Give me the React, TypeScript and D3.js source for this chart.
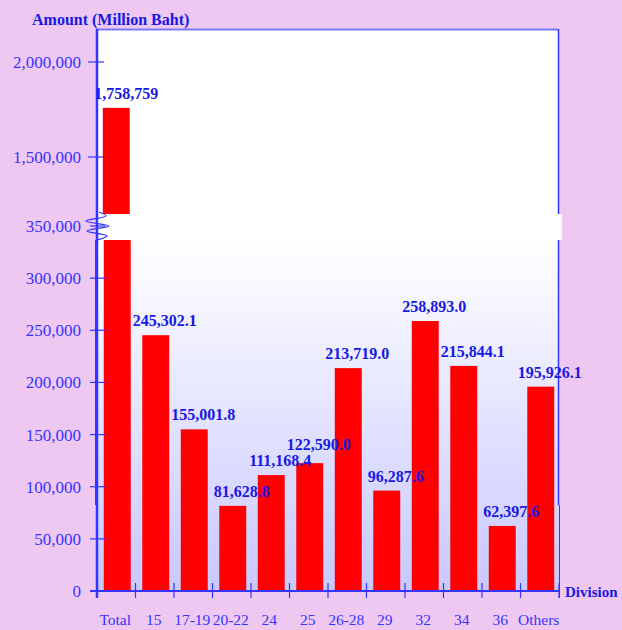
import React from 'react';
import * as d3 from 'd3';

// divisions and their amounts (million baht)
const categories = ['Total', '15', '17-19', '20-22', '24', '25', '26-28', '29', '32', '34', '36', 'Others'];
const amounts = [1758759, 245302.1, 155001.8, 81628.8, 111168.4, 122590.0, 213719.0, 96287.6, 258893.0, 215844.1, 62397.6, 195926.1];
const lowerTicks = [0, 50000, 100000, 150000, 200000, 250000, 300000, 350000];
const upperTicks = [1500000, 2000000];

const W = 622;
const H = 630;
const left = 97;
const right = 559;
const upperTop = 29;
const upperBottom = 214;
const lowerTop = 240;
const baseline = 591;

const bg = '#EFC8F2';
const axisBlue = '#3535FF';
const labelBlue = '#1818E6';
const serif = '"Liberation Serif", "Times New Roman", serif';

const x = d3.scaleBand<string>()
  .domain(categories)
  .range([left, right])
  .paddingInner(0.3)
  .paddingOuter(0.15);

const yLow = d3.scaleLinear().domain([0, 350000]).range([baseline, 226]);
const yHigh = d3.scaleLinear().domain([1500000, 2000000]).range([157, 62]);

const fmtTick = d3.format(',');
const fmtVal = (v: number, i: number) => (i === 0 ? d3.format(',')(v) : d3.format(',.1f')(v));

// axis break squiggle
const squiggle = d3.line<[number, number]>().curve(d3.curveCatmullRom)([
  [99, 212], [106, 216], [86, 221], [109, 226], [87, 231], [107, 236], [97, 240],
]);

// place value labels, pushing one up when it would sit on the previous one
function placeLabels(bw: number) {
  const out: { x: number; y: number; text: string; w: number }[] = [];
  amounts.forEach((v, i) => {
    const text = fmtVal(v, i);
    const w = text.length * 8;
    const cx = (x(categories[i]) as number) + bw / 2 + 10;
    let y = (i === 0 ? yHigh(v) : yLow(v)) - 9;
    const prev = out[i - 1];
    if (prev && Math.abs(prev.x - cx) < (prev.w + w) / 2 && Math.abs(prev.y - y) < 16) {
      y = prev.y - 16;
    }
    out.push({ x: cx, y, text, w });
  });
  return out;
}

export default function App() {
  const bw = x.bandwidth();
  const gap = (x.step() - bw) / 2;
  const boundaries = categories.map(c => (x(c) as number) - gap).concat([right]);
  const labels = placeLabels(bw);

  return (
    <svg width={W} height={H} style={{ position: 'absolute', left: 0, top: 0, display: 'block' }}
      fontFamily={serif}>
      <defs>
        <linearGradient id="lowGrad" x1="0" y1="0" x2="0" y2="1">
          <stop offset="0%" stopColor="#FFFFFF" />
          <stop offset="100%" stopColor="#C8C8FF" />
        </linearGradient>
        <clipPath id="clipUpper">
          <rect x={left} y={upperTop} width={right - left} height={upperBottom - upperTop} />
        </clipPath>
        <clipPath id="clipLower">
          <rect x={left} y={lowerTop} width={right - left} height={baseline - lowerTop} />
        </clipPath>
      </defs>

      <rect x={0} y={0} width={W} height={H} fill={bg} />

      {/* panels */}
      <rect x={left - 1} y={upperTop} width={right - left} height={upperBottom - upperTop} fill="#FFFFFF" />
      <rect x={left - 1} y={upperBottom} width={right - left + 4} height={lowerTop - upperBottom} fill="#FFFFFF" />
      <rect x={left} y={lowerTop} width={right - left} height={baseline - lowerTop} fill="url(#lowGrad)" />

      {/* frame */}
      <line x1={left - 1} x2={right - 1} y1={upperTop + 0.5} y2={upperTop + 0.5} stroke="#7878FF" strokeWidth={2} />
      <line x1={right - 0.5} x2={right - 0.5} y1={upperTop} y2={upperBottom} stroke={axisBlue} strokeWidth={1.5} />
      <line x1={right - 0.5} x2={right - 0.5} y1={lowerTop} y2={505} stroke={axisBlue} strokeWidth={1.5} />
      <line x1={right + 0.5} x2={right + 0.5} y1={505} y2={baseline + 7} stroke={axisBlue} strokeWidth={1} />
      <line x1={left - 1.5} x2={left - 1.5} y1={lowerTop} y2={505} stroke={axisBlue} strokeWidth={1} />

      {/* bars */}
      <g clipPath="url(#clipUpper)">
        {amounts.map((v, i) => (
          <rect key={'u' + i} x={x(categories[i]) as number} width={bw}
            y={yHigh(v)} height={Math.max(0, upperBottom - yHigh(v) + 2)} fill="#FF0000" />
        ))}
      </g>
      <g clipPath="url(#clipLower)">
        {amounts.map((v, i) => (
          <rect key={'l' + i} x={(x(categories[i]) as number) + 1} width={bw}
            y={Math.max(lowerTop, yLow(v))} height={baseline - Math.max(lowerTop, yLow(v))} fill="#FF0000" />
        ))}
      </g>

      {/* y axis */}
      <line x1={left} x2={left} y1={upperTop} y2={baseline + 7} stroke={axisBlue} strokeWidth={2.5} />
      {lowerTicks.map(t => (
        <g key={'lt' + t}>
          <line x1={90} x2={105} y1={yLow(t)} y2={yLow(t)} stroke={axisBlue} strokeWidth={1.2} />
          <text x={81} y={yLow(t)} dy="0.35em" textAnchor="end" fontSize={17} fill={axisBlue}>{fmtTick(t)}</text>
        </g>
      ))}
      {upperTicks.map(t => (
        <g key={'ut' + t}>
          <line x1={88} x2={104} y1={yHigh(t)} y2={yHigh(t)} stroke={axisBlue} strokeWidth={1.2} />
          <text x={81} y={yHigh(t)} dy="0.35em" textAnchor="end" fontSize={17} fill={axisBlue}>{fmtTick(t)}</text>
        </g>
      ))}

      {/* break mark */}
      <path d={squiggle || ''} fill="none" stroke={axisBlue} strokeWidth={1.3} />

      {/* x axis */}
      <line x1={90} x2={right} y1={baseline} y2={baseline} stroke={axisBlue} strokeWidth={2} />
      {boundaries.map((bx, i) => (
        <line key={'xt' + i} x1={bx} x2={bx} y1={baseline - 8} y2={baseline + 7} stroke={axisBlue} strokeWidth={1.2} />
      ))}
      {categories.map(c => (
        <text key={'xl' + c} x={(x(c) as number) + bw / 2 - 1} y={625} textAnchor="middle"
          fontSize={15.5} fill={axisBlue}>{c}</text>
      ))}

      {/* value labels */}
      {labels.map((l, i) => (
        <text key={'v' + i} x={l.x} y={l.y} textAnchor="middle" fontSize={16} fontWeight="bold"
          fill={labelBlue}>{l.text}</text>
      ))}

      {/* titles */}
      <text x={32} y={25} fontSize={16} fontWeight="bold" fill={labelBlue}>Amount (Million Baht)</text>
      <text x={565} y={597} fontSize={15} fontWeight="bold" fill={labelBlue}>Division</text>
    </svg>
  );
}
